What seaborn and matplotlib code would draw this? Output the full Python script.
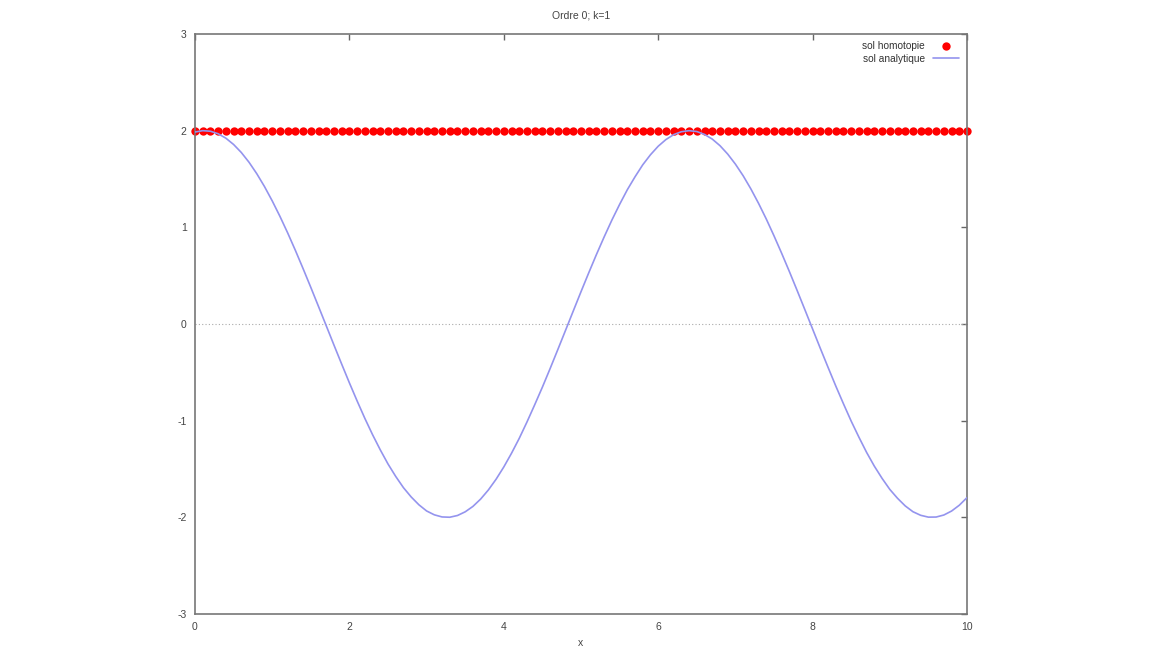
import numpy as np
import pandas as pd
import matplotlib
matplotlib.use("Agg")
import matplotlib.pyplot as plt
import seaborn as sns

# sol homotopie (ordre 0): constante sur la grille x = 0..10 pas 0.1
x_homotopie = np.round(np.arange(0, 101) * 0.1, 1)
y_homotopie = np.full(len(x_homotopie), 2.0)

# sol analytique, valeurs (pas 0.1)
x_analytique = np.round(np.arange(0, 101) * 0.1, 1)
y_analytique = [
    1.986, 2.000, 1.994, 1.968, 1.922, 1.857, 1.774, 1.673, 1.555, 1.422,
    1.274, 1.114, 0.943, 0.762, 0.573, 0.379, 0.181, -0.018, -0.218, -0.415,
    -0.609, -0.796, -0.976, -1.145, -1.302, -1.448, -1.577, -1.693, -1.789, -1.870,
    -1.934, -1.974, -1.996, -1.999, -1.981, -1.943, -1.887, -1.811, -1.717, -1.606,
    -1.479, -1.337, -1.183, -1.014, -0.836, -0.653, -0.461, -0.264, -0.065, 0.135,
    0.334, 0.529, 0.719, 0.901, 1.075, 1.237, 1.389, 1.523, 1.647, 1.751,
    1.839, 1.908, 1.959, 1.989, 2.000, 1.991, 1.961, 1.913, 1.845, 1.758,
    1.654, 1.534, 1.398, 1.248, 1.086, 0.912, 0.730, 0.541, 0.346, 0.148,
    -0.052, -0.252, -0.448, -0.641, -0.826, -1.005, -1.171, -1.329, -1.471, -1.597,
    -1.711, -1.803, -1.882, -1.942, -1.979, -1.998, -1.997, -1.976, -1.935, -1.875,
    -1.796,
]

x_ticks = [0, 2, 4, 6, 8, 10]
y_ticks = [-3, -2, -1, 0, 1, 2, 3]

df_h = pd.DataFrame({"x": x_homotopie, "y": y_homotopie})
df_a = pd.DataFrame({"x": x_analytique, "y": y_analytique})

sns.set_style("white")
plt.rcParams["font.family"] = ["Liberation Sans", "DejaVu Sans"]

fig = plt.figure(figsize=(11.52, 6.48), dpi=100)
ax = fig.add_axes([195 / 1152, 1 - 614 / 648, 772 / 1152, 580 / 648])

# zero axis
ax.axhline(0, color="#aaaaaa", lw=0.8, ls=(0, (1, 2)), zorder=1)

sns.scatterplot(data=df_h, x="x", y="y", ax=ax, color="#ff0000", s=36,
                linewidth=0, label="sol homotopie", zorder=2, clip_on=False)
sns.lineplot(data=df_a, x="x", y="y", ax=ax, color="#9494ee", lw=1.2,
             label="sol analytique", zorder=3)

ax.set_xlim(0, 10)
ax.set_ylim(-3, 3)
ax.set_xticks(x_ticks)
ax.set_yticks(y_ticks)
ax.set_xticklabels([str(t) for t in x_ticks])
ax.set_yticklabels([str(t) for t in y_ticks])
ax.tick_params(direction="in", length=4, width=1, color="#666666",
               labelsize=7.5, labelcolor="#444444", top=True, right=True,
               labeltop=False, labelright=False, pad=6)
for sp in ax.spines.values():
    sp.set_color("#777777")
    sp.set_linewidth(1.2)

ax.set_xlabel("x", fontsize=7.5, color="#444444", labelpad=4)
ax.set_ylabel("")
ax.set_title("Ordre 0; k=1", fontsize=7.5, color="#444444", pad=11)

leg = ax.legend(loc="upper right", bbox_to_anchor=(0.997, 0.998), frameon=False,
                markerfirst=False, fontsize=7.3, handlelength=2.6,
                handletextpad=0.8, labelspacing=0.3, borderaxespad=0.15)
for t in leg.get_texts():
    t.set_color("#333333")

fig.savefig("out.png", dpi=100, facecolor="white")
